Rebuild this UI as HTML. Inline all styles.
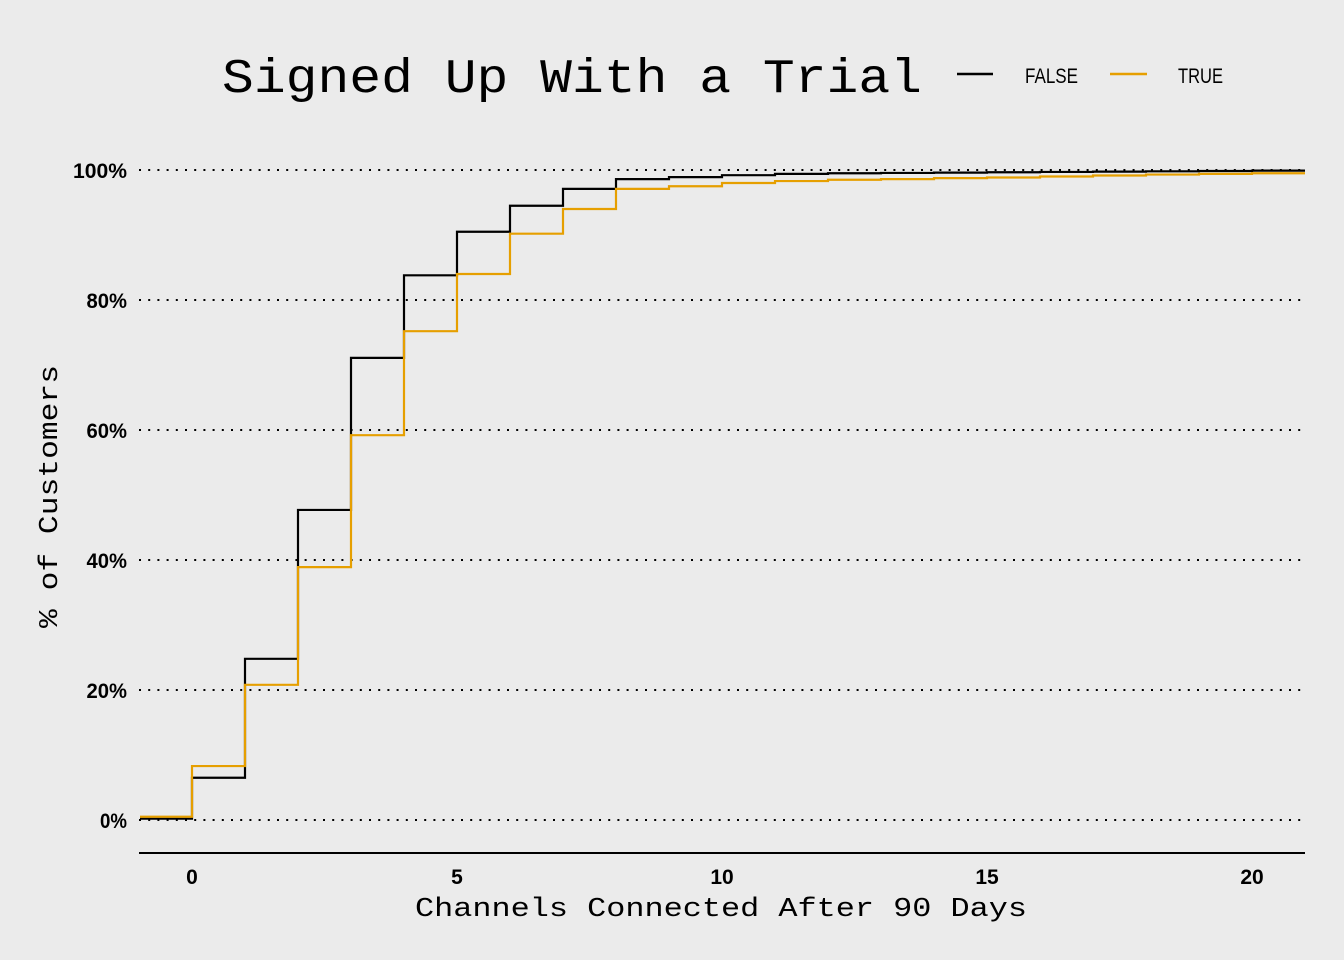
<!DOCTYPE html>
<html><head><meta charset="utf-8"><style>
body{margin:0;background:#ebebeb;}
svg{display:block;}
.tick{font-family:"Liberation Sans Narrow","Liberation Sans",sans-serif;font-weight:bold;font-size:21px;fill:#000;}
.mono{font-family:"Liberation Mono",monospace;fill:#000;}
</style></head><body>
<svg id="chart" width="1344" height="960">
<rect width="1344" height="960" fill="#ebebeb"/>
<g id="grid"></g><g id="lines"></g><g id="axes"></g>
<text class="mono" x="222" y="92" font-size="48" textLength="700" lengthAdjust="spacingAndGlyphs">Signed Up With a Trial</text>
<line x1="957" y1="74" x2="993" y2="74" stroke="#000" stroke-width="2.5"/>
<text x="1025" y="83" font-family="Liberation Sans Narrow,Liberation Sans,sans-serif" font-size="21" textLength="53" lengthAdjust="spacingAndGlyphs">FALSE</text>
<line x1="1110" y1="74" x2="1147" y2="74" stroke="#e69f00" stroke-width="2.5"/>
<text x="1178" y="83" font-family="Liberation Sans Narrow,Liberation Sans,sans-serif" font-size="21" textLength="45" lengthAdjust="spacingAndGlyphs">TRUE</text>
<text class="mono" x="415" y="916" font-size="27" textLength="612" lengthAdjust="spacingAndGlyphs">Channels Connected After 90 Days</text>
<text class="mono" font-size="27" textLength="263" lengthAdjust="spacingAndGlyphs" transform="translate(57,628) rotate(-90)">% of Customers</text>
</svg>
<script>
const xStart = -1, xEnd = 21;
const falseVals = [0.2,6.5,24.8,47.7,71.1,83.8,90.5,94.5,97.1,98.6,98.9,99.2,99.4,99.5,99.55,99.6,99.65,99.7,99.75,99.8,99.85,99.9];
const trueVals = [0.5,8.3,20.8,38.9,59.2,75.2,84.0,90.2,94.0,97.1,97.5,98.0,98.3,98.5,98.6,98.75,98.85,99.0,99.15,99.3,99.4,99.5];
const yTicks = [0,20,40,60,80,100];
const xTicks = [0,5,10,15,20];
const X = v => 192 + (v - 0) * 53;
const Y = v => 820 - v * 6.5;
const NS = "http://www.w3.org/2000/svg";
function mk(tag, attrs, parent){const e=document.createElementNS(NS,tag);for(const k in attrs)e.setAttribute(k,attrs[k]);parent.appendChild(e);return e;}
const grid=document.getElementById('grid'), lines=document.getElementById('lines'), axes=document.getElementById('axes');
yTicks.forEach(t=>{
  const l=mk('line',{x1:139,x2:1305,y1:Y(t),y2:Y(t),stroke:'#000','stroke-width':2,'stroke-dasharray':'2 7.2'},grid);
  
  
  const label=t+'%';
  const tx=mk('text',{x:127,y:Y(t)+8,'text-anchor':'end',class:'tick',textLength:label.length*13.5,lengthAdjust:'spacingAndGlyphs'},axes);
  tx.textContent=label;
  
  
});
const ax=mk('line',{x1:139,x2:1305,y1:853,y2:853,stroke:'#000','stroke-width':2},axes);


xTicks.forEach(t=>{
  const tx=mk('text',{x:X(t),y:884,'text-anchor':'middle',class:'tick'},axes);
  tx.textContent=t;
  
  
});
function stepPath(vals){
  let d='';
  vals.forEach((v,i)=>{
    const x0 = i===0 ? X(xStart)+1 : X(i-1);
    const x1 = i===vals.length-1 ? X(xEnd) : X(i);
    d += (i===0?'M':'L')+x0+','+Y(v)+' L'+x1+','+Y(v)+' ';
  });
  return d;
}
const pf=mk('path',{d:stepPath(falseVals),fill:'none',stroke:'#000','stroke-width':2.2},lines);


const pt=mk('path',{d:stepPath(trueVals),fill:'none',stroke:'#e69f00','stroke-width':2.2},lines);


</script>
</body></html>
